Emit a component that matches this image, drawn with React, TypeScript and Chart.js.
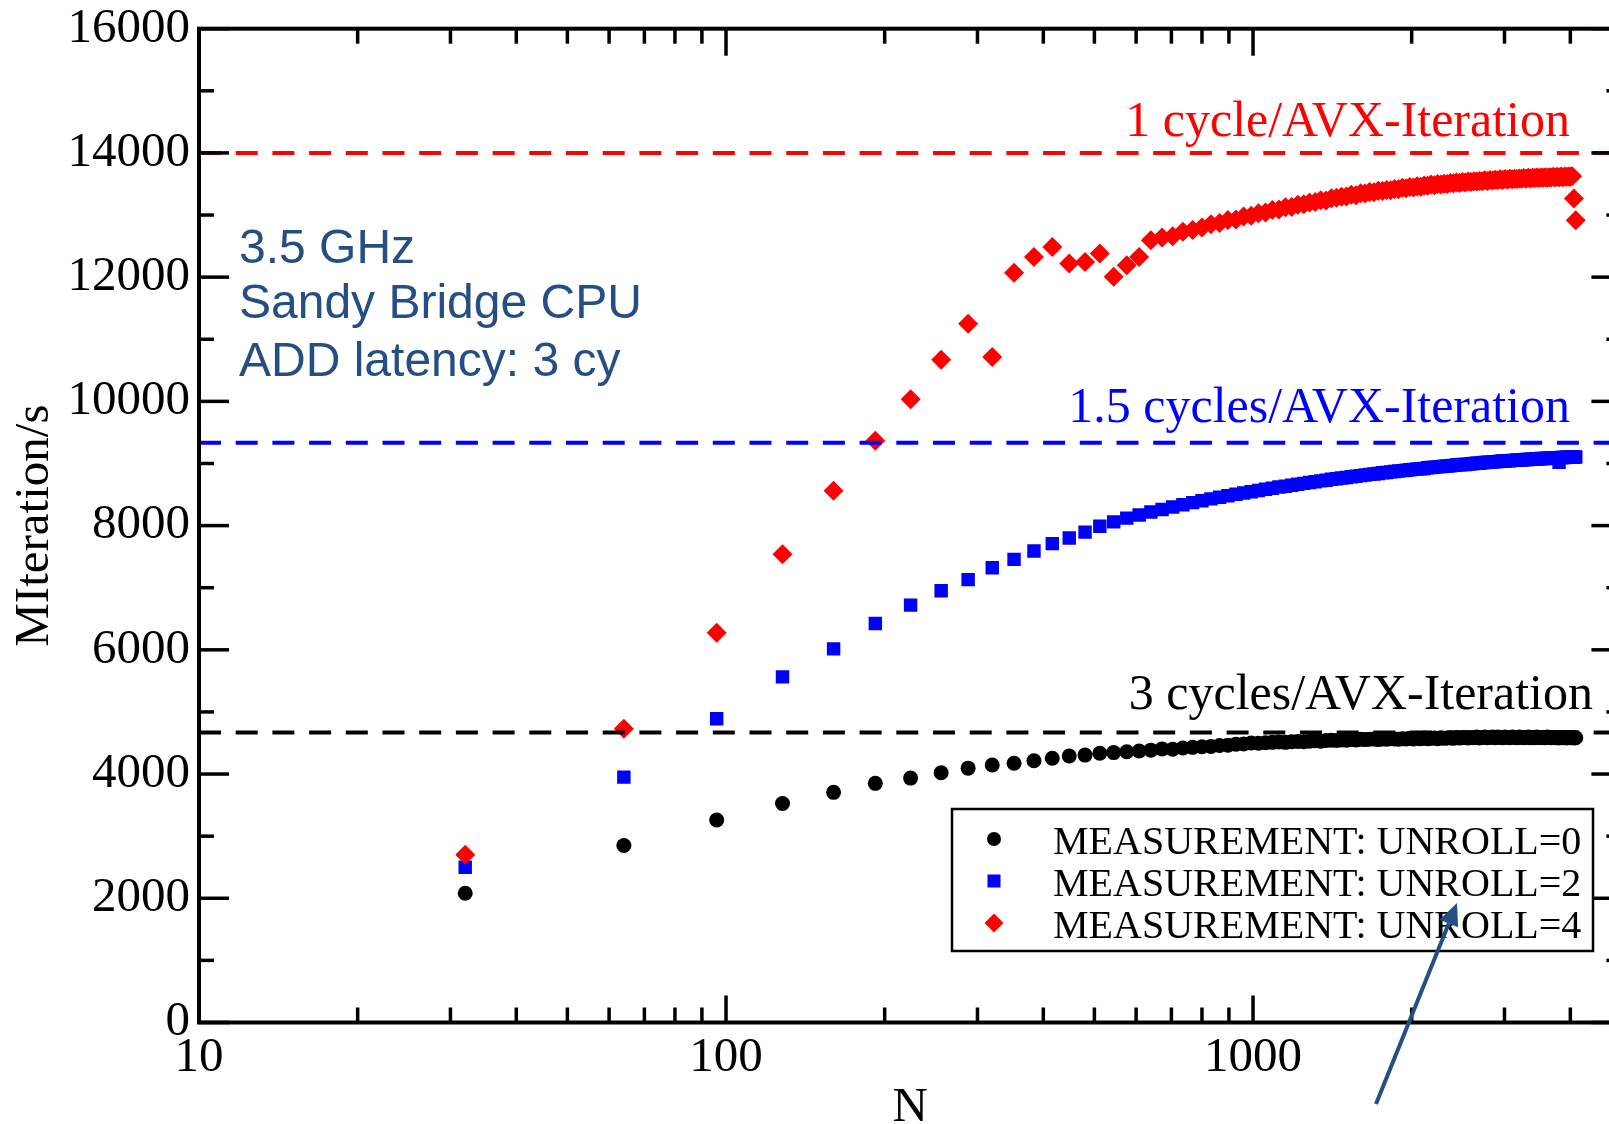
import React, { useEffect, useRef } from 'react';
import { Chart, registerables } from 'chart.js';

Chart.register(...registerables);

const N_VALUES = [
  32, 64, 96, 128, 160, 192, 224, 256, 288, 320,
  352, 384, 416, 448, 480, 512, 544, 576, 608, 640,
  672, 704, 736, 768, 800, 832, 864, 896, 928, 960,
  992, 1024, 1056, 1088, 1120, 1152, 1184, 1216, 1248, 1280,
  1312, 1344, 1376, 1408, 1440, 1472, 1504, 1536, 1568, 1600,
  1632, 1664, 1696, 1728, 1760, 1792, 1824, 1856, 1888, 1920,
  1952, 1984, 2016, 2048, 2080, 2112, 2144, 2176, 2208, 2240,
  2272, 2304, 2336, 2368, 2400, 2432, 2464, 2496, 2528, 2560,
  2592, 2624, 2656, 2688, 2720, 2752, 2784, 2816, 2848, 2880,
  2912, 2944, 2976, 3008, 3040, 3072, 3104, 3136, 3168, 3200,
  3232, 3264, 3296, 3328, 3360, 3392, 3424, 3456, 3488, 3520,
  3552, 3584, 3616, 3648, 3680, 3712, 3744, 3776, 3808, 3840,
  3872, 3904, 3936, 3968, 4000, 4032, 4064, 4096,
];

const UNROLL0 = [
  2080, 2850, 3260, 3525, 3705, 3850, 3935, 4020, 4095, 4145,
  4175, 4215, 4255, 4290, 4305, 4335, 4345, 4360, 4370, 4385,
  4405, 4400, 4420, 4430, 4440, 4445, 4460, 4465, 4480, 4485,
  4500, 4495, 4505, 4510, 4515, 4510, 4520, 4525, 4520, 4530,
  4535, 4530, 4540, 4545, 4540, 4550, 4545, 4555, 4550, 4560,
  4555, 4560, 4565, 4555, 4565, 4560, 4570, 4565, 4560, 4570,
  4565, 4575, 4565, 4575, 4570, 4580, 4570, 4575, 4580, 4570,
  4585, 4575, 4580, 4585, 4575, 4590, 4580, 4585, 4590, 4580,
  4590, 4585, 4595, 4580, 4590, 4595, 4585, 4590, 4595, 4585,
  4595, 4590, 4585, 4595, 4590, 4585, 4595, 4590, 4585, 4595,
  4590, 4585, 4590, 4595, 4585, 4590, 4585, 4595, 4590, 4585,
  4590, 4585, 4595, 4590, 4585, 4590, 4585, 4590, 4580, 4590,
  4585, 4590, 4580, 4590, 4585, 4590, 4580, 4585,
];

const UNROLL2 = [
  2500, 3950, 4890, 5565, 6015, 6425, 6720, 6950, 7130, 7320,
  7456, 7590, 7710, 7800, 7895, 7990, 8060, 8120, 8170, 8220,
  8260, 8300, 8335, 8370, 8400, 8430, 8455, 8480, 8505, 8525,
  8545, 8565, 8585, 8600, 8620, 8635, 8650, 8665, 8680, 8695,
  8705, 8720, 8730, 8745, 8755, 8765, 8775, 8785, 8795, 8805,
  8815, 8825, 8830, 8840, 8850, 8855, 8865, 8870, 8880, 8885,
  8890, 8900, 8905, 8910, 8915, 8920, 8930, 8935, 8940, 8945,
  8950, 8955, 8960, 8965, 8970, 8975, 8980, 8985, 8985, 8990,
  8995, 9000, 9005, 9005, 9010, 9015, 9020, 9020, 9025, 9030,
  9030, 9035, 9040, 9040, 9045, 9045, 9050, 9050, 9055, 9055,
  9060, 9060, 9065, 9065, 9070, 9070, 9070, 9075, 9075, 9080,
  9080, 9080, 9085, 9085, 9085, 9090, 9090, 9090, 9020, 9095,
  9095, 9095, 9100, 9100, 9100, 9100, 9105, 9105,
];

const UNROLL4 = [
  2700, 4730, 6275, 7540, 8560, 9365, 10035, 10670, 11250, 10715,
  12070, 12325, 12485, 12220, 12245, 12380, 12005, 12190, 12325, 12595,
  12640, 12660, 12730, 12760, 12800, 12850, 12870, 12920, 12930, 12975,
  12990, 13030, 13040, 13080, 13090, 13125, 13130, 13165, 13175, 13200,
  13210, 13240, 13235, 13270, 13280, 13295, 13300, 13325, 13320, 13350,
  13345, 13370, 13365, 13390, 13385, 13405, 13400, 13420, 13415, 13440,
  13430, 13450, 13445, 13465, 13455, 13475, 13470, 13490, 13480, 13500,
  13490, 13505, 13500, 13515, 13510, 13525, 13515, 13530, 13525, 13540,
  13530, 13545, 13540, 13550, 13545, 13560, 13550, 13565, 13555, 13570,
  13560, 13575, 13565, 13580, 13570, 13585, 13575, 13585, 13580, 13590,
  13585, 13595, 13585, 13600, 13590, 13600, 13595, 13605, 13595, 13605,
  13600, 13610, 13600, 13610, 13605, 13615, 13605, 13615, 13610, 13620,
  13610, 13620, 13615, 13620, 13615, 13625, 13265, 12915,
];

const X_MIN = 10;
const X_MAX = 5000;
const X_MAJOR = [10, 100, 1000];
const X_MINOR = [20, 30, 40, 50, 60, 70, 80, 90, 200, 300, 400, 500, 600, 700, 800, 900, 2000, 3000, 4000, 5000];
const Y_MAJOR = [0, 2000, 4000, 6000, 8000, 10000, 12000, 14000, 16000];
const Y_MINOR = [1000, 3000, 5000, 7000, 9000, 11000, 13000, 15000];

const REF_VALUES = [14000, 9333, 4667];
const REF_COLORS = ['#ff0000', '#0000ff', '#000000'];
const REF_LABELS = ['1 cycle/AVX-Iteration', '1.5 cycles/AVX-Iteration', '3 cycles/AVX-Iteration'];

const SERIES_LABELS = ['MEASUREMENT: UNROLL=0', 'MEASUREMENT: UNROLL=2', 'MEASUREMENT: UNROLL=4'];
const SERIES_COLORS = ['#000000', '#0000ff', '#ff0000'];

const INFO_LINES = ['3.5 GHz', 'Sandy Bridge CPU', 'ADD latency: 3 cy'];
const NOTE_COLOR = '#254e85';

const SERIF = "'Liberation Serif', 'Times New Roman', serif";
const SANS = "'Liberation Sans', Arial, sans-serif";

const CANVAS_W = 1660;
const CANVAS_H = 1124;

const decorPlugin = {
  id: 'decor',
  afterDatasetsDraw(chart: any) {
    const { ctx, chartArea: a, scales } = chart;
    const x = scales.x;
    const y = scales.y;
    ctx.save();
    ctx.strokeStyle = '#000';
    ctx.lineCap = 'butt';
    ctx.lineWidth = 3.5;
    const seg = (x1: number, y1: number, x2: number, y2: number) => {
      ctx.beginPath();
      ctx.moveTo(x1, y1);
      ctx.lineTo(x2, y2);
      ctx.stroke();
    };
    Y_MAJOR.forEach((v) => {
      const p = y.getPixelForValue(v);
      seg(a.left, p, a.left + 30, p);
      seg(a.right, p, a.right - 30, p);
    });
    Y_MINOR.forEach((v) => {
      const p = y.getPixelForValue(v);
      seg(a.left, p, a.left + 15, p);
      seg(a.right, p, a.right - 15, p);
    });
    X_MAJOR.forEach((v) => {
      const p = x.getPixelForValue(v);
      seg(p, a.bottom, p, a.bottom - 27);
      seg(p, a.top, p, a.top + 27);
    });
    X_MINOR.forEach((v) => {
      const p = x.getPixelForValue(v);
      seg(p, a.bottom, p, a.bottom - 15);
      seg(p, a.top, p, a.top + 15);
    });
    ctx.lineWidth = 4;
    ctx.strokeRect(a.left, a.top, a.right - a.left, a.bottom - a.top);
    ctx.restore();
  },
  afterDraw(chart: any) {
    const { ctx, scales } = chart;
    const y = scales.y;
    ctx.save();
    // reference line labels
    const refRight = [1570, 1570, 1593];
    const refOffset = [17, 21, 24];
    ctx.font = `50px ${SERIF}`;
    ctx.textAlign = 'right';
    ctx.textBaseline = 'alphabetic';
    REF_LABELS.forEach((t, i) => {
      ctx.fillStyle = REF_COLORS[i];
      ctx.fillText(t, refRight[i], y.getPixelForValue(REF_VALUES[i]) - refOffset[i]);
    });
    // info text
    ctx.font = `48px ${SANS}`;
    ctx.textAlign = 'left';
    ctx.fillStyle = NOTE_COLOR;
    const infoBase = [263, 318, 376];
    INFO_LINES.forEach((t, i) => ctx.fillText(t, 239, infoBase[i]));
    // legend
    const lx = 952, ly = 809, lw = 641, lh = 142;
    ctx.fillStyle = '#fff';
    ctx.fillRect(lx, ly, lw, lh);
    ctx.strokeStyle = '#000';
    ctx.lineWidth = 2.5;
    ctx.strokeRect(lx, ly, lw, lh);
    const rowY = [839, 881, 923];
    const mx = 994;
    // markers
    ctx.fillStyle = SERIES_COLORS[0];
    ctx.beginPath();
    ctx.arc(mx, rowY[0], 7, 0, Math.PI * 2);
    ctx.fill();
    ctx.fillStyle = SERIES_COLORS[1];
    ctx.fillRect(mx - 6.5, rowY[1] - 6.5, 13, 13);
    ctx.fillStyle = SERIES_COLORS[2];
    ctx.beginPath();
    ctx.moveTo(mx, rowY[2] - 9.5);
    ctx.lineTo(mx + 9.5, rowY[2]);
    ctx.lineTo(mx, rowY[2] + 9.5);
    ctx.lineTo(mx - 9.5, rowY[2]);
    ctx.closePath();
    ctx.fill();
    ctx.fillStyle = '#000';
    ctx.font = `40px ${SERIF}`;
    ctx.textAlign = 'left';
    ctx.textBaseline = 'alphabetic';
    SERIES_LABELS.forEach((t, i) => ctx.fillText(t, 1053, rowY[i] + 15));
    // arrow
    const x1 = 1376, y1 = 1104, x2 = 1457, y2 = 903;
    ctx.strokeStyle = NOTE_COLOR;
    ctx.fillStyle = NOTE_COLOR;
    ctx.lineWidth = 4;
    const ang = Math.atan2(y2 - y1, x2 - x1);
    const hl = 22, hw = 10;
    const bx = x2 - hl * Math.cos(ang), by = y2 - hl * Math.sin(ang);
    ctx.beginPath();
    ctx.moveTo(x1, y1);
    ctx.lineTo(bx, by);
    ctx.stroke();
    ctx.beginPath();
    ctx.moveTo(x2, y2);
    ctx.lineTo(bx + hw * Math.sin(ang), by - hw * Math.cos(ang));
    ctx.lineTo(bx - hw * Math.sin(ang), by + hw * Math.cos(ang));
    ctx.closePath();
    ctx.fill();
    ctx.restore();
  },
};

export default function App() {
  const canvasRef = useRef<HTMLCanvasElement | null>(null);

  useEffect(() => {
    const canvas = canvasRef.current;
    if (!canvas) return;
    const toPoints = (vals: number[]) => vals.map((v, i) => ({ x: N_VALUES[i], y: v }));
    const refDatasets = REF_VALUES.map((v, i) => ({
      label: REF_LABELS[i],
      data: [{ x: X_MIN, y: v }, { x: X_MAX, y: v }],
      showLine: true,
      borderColor: REF_COLORS[i],
      borderWidth: 4,
      borderDash: [22, 14.7],
      pointRadius: 0,
      fill: false,
      order: 0,
    }));
    const chart = new Chart(canvas, {
      type: 'scatter',
      data: {
        datasets: [
          ...refDatasets,
          {
            label: SERIES_LABELS[2],
            data: toPoints(UNROLL4),
            pointStyle: 'rectRot',
            pointRadius: 10,
            backgroundColor: SERIES_COLORS[2],
            borderWidth: 0,
            order: 1,
          },
          {
            label: SERIES_LABELS[1],
            data: toPoints(UNROLL2),
            pointStyle: 'rect',
            pointRadius: 9.5,
            backgroundColor: SERIES_COLORS[1],
            borderWidth: 0,
            order: 2,
          },
          {
            label: SERIES_LABELS[0],
            data: toPoints(UNROLL0),
            pointStyle: 'circle',
            pointRadius: 7.5,
            backgroundColor: SERIES_COLORS[0],
            borderWidth: 0,
            order: 3,
          },
        ],
      } as any,
      options: {
        animation: false,
        responsive: false,
        devicePixelRatio: 1,
        events: [],
        layout: { padding: { left: 0, top: 28.7, right: CANVAS_W - 1621.4, bottom: 0 } },
        plugins: { legend: { display: false }, tooltip: { enabled: false } },
        scales: {
          x: {
            type: 'logarithmic',
            min: X_MIN,
            max: X_MAX,
            grid: { display: false, drawTicks: false },
            border: { display: false },
            afterBuildTicks: (scale: any) => {
              scale.ticks = X_MAJOR.map((v) => ({ value: v }));
            },
            afterFit: (scale: any) => {
              scale.height = CANVAS_H - 1022.5;
            },
            ticks: {
              autoSkip: false,
              maxRotation: 0,
              padding: 6,
              color: '#000',
              font: { family: SERIF, size: 49, lineHeight: 1.2 },
              callback: (v: any) => String(v),
            },
            title: {
              display: true,
              text: 'N',
              color: '#000',
              font: { family: SERIF, size: 49, lineHeight: 1 },
              padding: { top: 0, bottom: -9 },
            },
          },
          y: {
            type: 'linear',
            min: 0,
            max: 16000,
            grid: { display: false, drawTicks: false },
            border: { display: false },
            afterBuildTicks: (scale: any) => {
              scale.ticks = Y_MAJOR.map((v) => ({ value: v }));
            },
            afterFit: (scale: any) => {
              scale.width = 199;
            },
            ticks: {
              padding: 9,
              color: '#000',
              font: { family: SERIF, size: 49, lineHeight: 0.7 },
              callback: (v: any) => String(v),
            },
            title: {
              display: true,
              text: 'MIteration/s',
              color: '#000',
              font: { family: SERIF, size: 49, lineHeight: 1.2 },
              padding: { top: 6, bottom: 0 },
            },
          },
        },
      } as any,
      plugins: [decorPlugin],
    });
    return () => chart.destroy();
  }, []);

  return (
    <div style={{ position: 'fixed', left: 0, top: 0, width: '100vw', height: '100vh', overflow: 'hidden', background: '#fff' }}>
      <canvas ref={canvasRef} width={CANVAS_W} height={CANVAS_H} style={{ display: 'block' }} />
    </div>
  );
}
